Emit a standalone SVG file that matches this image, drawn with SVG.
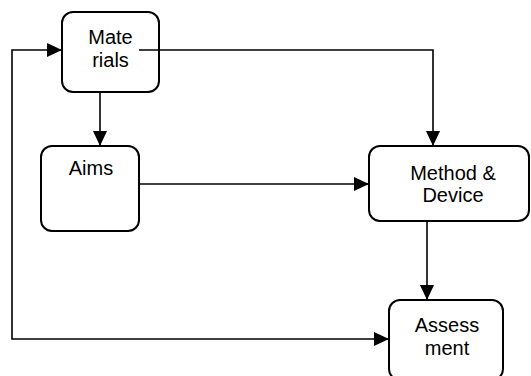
<svg xmlns="http://www.w3.org/2000/svg" width="531" height="376" viewBox="0 0 531 376">
<defs>
<style>
.box{fill:#fff;stroke:#000;stroke-width:2}
.t{font-family:"Liberation Sans",Arial,sans-serif;font-size:20px;fill:#000;text-anchor:middle}
.c{fill:none;stroke:#000;stroke-width:1.6}
</style>
<marker id="ah" viewBox="0 0 15 14" refX="15" refY="7" markerWidth="15" markerHeight="14" markerUnits="userSpaceOnUse" orient="auto-start-reverse">
<path d="M0,0 L15,7 L0,14 Z" fill="#000"/>
</marker>
</defs>
<rect width="531" height="376" fill="#fff"/>
<g id="materials"><rect class="box" x="62" y="12" width="97" height="80" rx="11"/>
<text class="t" x="110.5" y="44">Mate</text><text class="t" x="110.5" y="67">rials</text></g>
<g id="aims"><rect class="box" x="41" y="146" width="98" height="85" rx="11"/>
<text class="t" x="91" y="175">Aims</text></g>
<g id="method"><rect class="box" x="369" y="146" width="160" height="75" rx="11"/>
<text class="t" x="453" y="180">Method &amp;</text><text class="t" x="453" y="202">Device</text></g>
<g id="assessment"><rect class="box" x="389" y="300" width="114" height="80" rx="11"/>
<text class="t" x="447" y="332">Assess</text><text class="t" x="447" y="355">ment</text></g>
<g id="connectors">
<path class="c" d="M139,50 H433 V146" marker-end="url(#ah)"/>
<path class="c" d="M100,92 V146" marker-end="url(#ah)"/>
<path class="c" d="M139,184 H369" marker-end="url(#ah)"/>
<path class="c" d="M427,221 V300" marker-end="url(#ah)"/>
<path class="c" d="M389,339 H12 V50 H62" marker-start="url(#ah)" marker-end="url(#ah)"/>
</g>
</svg>
